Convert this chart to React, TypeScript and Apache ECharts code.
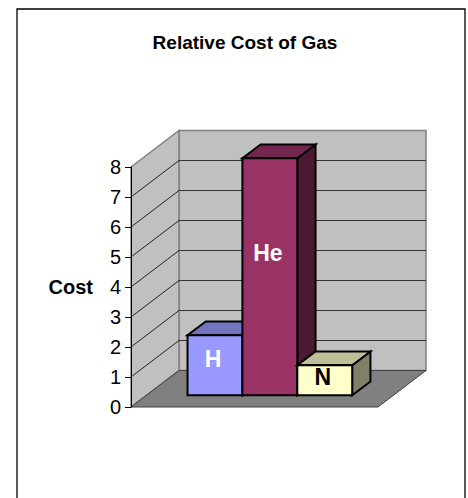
import React, { useEffect, useRef } from "react";
import * as echarts from "echarts";

// ---- data ----
const categories = ["Gas"];
const seriesNames = ["H", "He", "N"];
const costValues = [2, 7.9, 1];
const yTicks = [0, 1, 2, 3, 4, 5, 6, 7, 8];
const chartTitle = "Relative Cost of Gas";
const axisName = "Cost";

// ---- styles ----
const faceColors = ["#9999FF", "#993366", "#FFFFCC"];
const topColors = ["#7373BF", "#732650", "#BFBF99"];
const sideColors = ["#4C4C80", "#4C1933", "#808066"];
const labelColors = ["#FFFFFF", "#FFFFFF", "#000000"];
const FONT = '"Liberation Sans", Arial, sans-serif';

const DEPTH_X = 48;
const DEPTH_Y = -36.5;
const FRONT = 0.32;
const BACK = 0.7;
const GAP_WIDTH = 1.5;

export default function App() {
  const ref = useRef<HTMLDivElement>(null);

  useEffect(() => {
    if (!ref.current) return;
    const chart = echarts.init(ref.current, undefined, { renderer: "svg" });
    const yMax = yTicks[yTicks.length - 1];

    const wallsSeries: any = {
      type: "custom",
      name: "walls",
      silent: true,
      clip: false,
      z: 1,
      data: [[0, 0]],
      encode: { x: 0, y: 1 },
      renderItem: (params: any, api: any) => {
        const cs = params.coordSys;
        const left = cs.x;
        const right = cs.x + cs.width;
        const y0 = api.coord([0, 0])[1];
        const yT = api.coord([0, yMax])[1];
        const dx = DEPTH_X;
        const dy = DEPTH_Y;
        const children: any[] = [];
        children.push({
          type: "polygon",
          shape: { points: [[left + dx, yT + dy], [right + dx, yT + dy], [right + dx, y0 + dy], [left + dx, y0 + dy]] },
          style: { fill: "#C0C0C0", stroke: "#808080", lineWidth: 1.5 },
        });
        children.push({
          type: "polygon",
          shape: { points: [[left, yT], [left + dx, yT + dy], [left + dx, y0 + dy], [left, y0]] },
          style: { fill: "#C0C0C0", stroke: "#808080", lineWidth: 1.5 },
        });
        yTicks.forEach((t) => {
          if (t <= 0 || t >= yMax) return;
          const y = api.coord([0, t])[1];
          children.push({
            type: "line",
            shape: { x1: left + dx, y1: y + dy, x2: right + dx, y2: y + dy },
            style: { stroke: "#333333", lineWidth: 1 },
          });
          children.push({
            type: "line",
            shape: { x1: left, y1: y, x2: left + dx, y2: y + dy },
            style: { stroke: "#222222", lineWidth: 1 },
          });
        });
        children.push({
          type: "polygon",
          shape: { points: [[left, y0], [left + dx, y0 + dy], [right + dx, y0 + dy], [right, y0]] },
          style: { fill: "#808080", stroke: "#404040", lineWidth: 1 },
        });
        return { type: "group", children };
      },
    };

    const barSeries = seriesNames.map((name, idx) => ({
      type: "custom",
      name,
      clip: false,
      z: 2,
      data: [[0, costValues[idx]]],
      encode: { x: 0, y: 1 },
      renderItem: (params: any, api: any) => {
        const v = api.value(1);
        const base = api.coord([0, 0]);
        const band = api.size([1, 0])[0];
        const barW = band / (seriesNames.length + GAP_WIDTH);
        const fx = DEPTH_X * FRONT;
        const fy = DEPTH_Y * FRONT;
        const bx = DEPTH_X * (BACK - FRONT);
        const by = DEPTH_Y * (BACK - FRONT);
        const x0 = base[0] - (barW * seriesNames.length) / 2 + idx * barW + fx;
        const x1 = x0 + barW;
        const yb = base[1] + fy;
        const yt = api.coord([0, v])[1] + fy;
        const stroke = { stroke: "#000000", lineWidth: 2, lineJoin: "miter" };
        return {
          type: "group",
          children: [
            {
              type: "polygon",
              shape: { points: [[x1, yt], [x1 + bx, yt + by], [x1 + bx, yb + by], [x1, yb]] },
              style: { fill: sideColors[idx], ...stroke },
            },
            {
              type: "polygon",
              shape: { points: [[x0, yt], [x1, yt], [x1 + bx, yt + by], [x0 + bx, yt + by]] },
              style: { fill: topColors[idx], ...stroke },
            },
            {
              type: "polygon",
              shape: { points: [[x0, yt], [x1, yt], [x1, yb], [x0, yb]] },
              style: { fill: faceColors[idx], ...stroke },
            },
            {
              type: "text",
              x: (x0 + x1) / 2 - 2,
              y: yt + 0.4 * (yb - yt),
              style: {
                text: name,
                fill: labelColors[idx],
                fontFamily: FONT,
                fontWeight: "bold",
                fontSize: 23,
                align: "center",
                verticalAlign: "middle",
              },
            },
          ],
        };
      },
    }));

    chart.setOption({
      animation: false,
      backgroundColor: "#FFFFFF",
      title: {
        text: chartTitle,
        left: 240,
        top: 28,
        textAlign: "center",
        textStyle: { fontFamily: FONT, fontWeight: "bold", fontSize: 19, color: "#000000" },
      },
      grid: { left: 131, right: 90, top: 167, bottom: 91 },
      xAxis: {
        type: "category",
        data: categories,
        show: false,
      },
      yAxis: {
        type: "value",
        min: 0,
        max: yMax,
        interval: 1,
        z: 5,
        name: axisName,
        nameLocation: "middle",
        nameRotate: 0,
        nameGap: 38,
        nameTextStyle: {
          fontFamily: FONT,
          fontWeight: "bold",
          fontSize: 20,
          color: "#000000",
          align: "right",
          verticalAlign: "middle",
        },
        axisLine: { show: true, lineStyle: { color: "#000000", width: 1 } },
        axisTick: { show: true, length: 6, lineStyle: { color: "#000000" } },
        axisLabel: { fontFamily: FONT, fontSize: 20, color: "#000000", margin: 10 },
        splitLine: { show: false },
      },
      graphic: [
        {
          type: "rect",
          shape: { x: 17, y: 9, width: 448, height: 520 },
          style: { fill: "none", stroke: "#000000", lineWidth: 1.3 },
          silent: true,
          z: 100,
        },
      ],
      series: [wallsSeries, ...barSeries],
    });

    return () => chart.dispose();
  }, []);

  return (
    <div
      ref={ref}
      style={{ position: "fixed", left: 0, top: 0, width: 468, height: 498 }}
    />
  );
}
